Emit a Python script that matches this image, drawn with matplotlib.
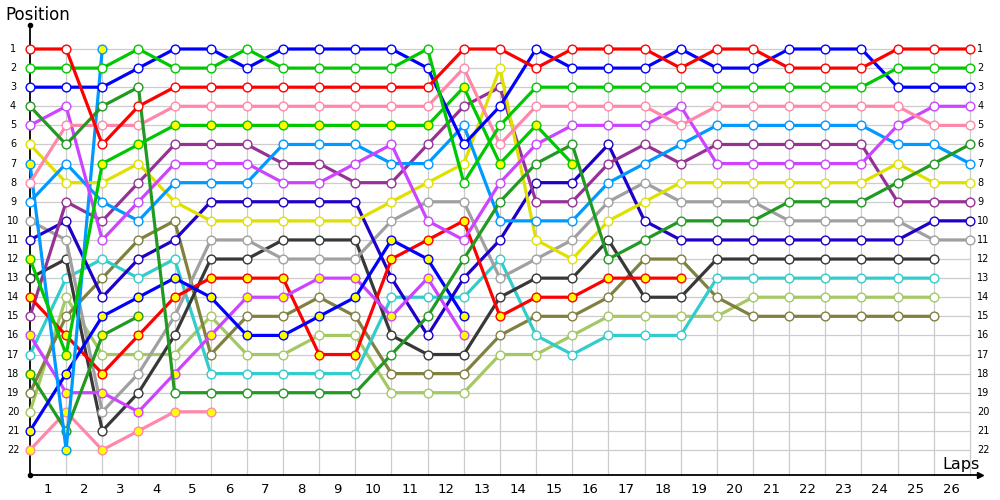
import matplotlib
matplotlib.use("Agg")
import matplotlib.pyplot as plt

# ---- data: position per lap (index = lap, 0 = grid) ----
laps_total = 26
red_1 = [1, 1, 6, 4, 3, 3, 3, 3, 3, 3, 3, 3, 1, 1, 2, 1, 1, 1, 2, 1, 1, 2, 2, 2, 1, 1, 1]
green_1 = [2, 2, 2, 1, 2, 2, 1, 2, 2, 2, 2, 1, 8, 5, 3, 3, 3, 3, 3, 3, 3, 3, 3, 3, 2, 2, 2]
green_2 = [12, 17, 7, 6, 5, 5, 5, 5, 5, 5, 5, 5, 3, 7, 5, 7]
blue_1 = [3, 3, 3, 2, 1, 1, 2, 1, 1, 1, 1, 2, 6, 4, 1, 2, 2, 2, 1, 2, 2, 1, 1, 1, 3, 3, 3]
blue_2 = [21, 18, 15, 14, 13, 14, 16, 16, 15, 14, 11, 12, 15]
dkgreen_1 = [4, 6, 4, 3, 19, 19, 19, 19, 19, 19, 17, 15, 12, 9, 7, 6, 12, 11, 10, 10, 10, 9, 9, 9, 8, 7, 6]
dkgreen_2 = [18, 21, 16, 15]
violet_1 = [5, 4, 11, 9, 7, 7, 7, 8, 8, 7, 6, 10, 11, 8, 6, 5, 5, 5, 4, 7, 7, 7, 7, 7, 5, 4, 4]
violet_2 = [16, 19, 19, 20, 18, 16, 14, 14, 13, 13, 15, 13, 16]
yellow_1 = [6, 8, 8, 7, 9, 10, 10, 10, 10, 10, 9, 8, 7, 2, 11, 12, 10, 9, 8, 8, 8, 8, 8, 8, 7, 8, 8]
ltblue_1 = [9, 7, 9, 10, 8, 8, 8, 6, 6, 6, 7, 7, 5, 10, 10, 10, 8, 7, 6, 5, 5, 5, 5, 5, 6, 6, 7]
ltblue_2 = [7, 22, 1]
pink_1 = [8, 5, 5, 5, 4, 4, 4, 4, 4, 4, 4, 4, 2, 6, 4, 4, 4, 4, 5, 4, 4, 4, 4, 4, 4, 5, 5]
pink_2 = [22, 20, 22, 21, 20, 20]
red_2 = [14, 16, 18, 16, 14, 13, 13, 13, 17, 17, 12, 11, 10, 15, 14, 14, 13, 13, 13]
gray_1 = [10, 11, 20, 18, 15, 11, 11, 12, 12, 12, 10, 9, 9, 13, 12, 11, 9, 8, 9, 9, 9, 10, 10, 10, 10, 11, 11]
navy_1 = [11, 10, 14, 12, 11, 9, 9, 9, 9, 9, 13, 16, 13, 11, 8, 8, 6, 10, 11, 11, 11, 11, 11, 11, 11, 10, 10]
black_1 = [13, 12, 21, 19, 16, 12, 12, 11, 11, 11, 16, 17, 17, 14, 13, 13, 11, 14, 14, 12, 12, 12, 12, 12, 12, 12]
purple_1 = [15, 9, 10, 8, 6, 6, 6, 7, 7, 8, 8, 6, 4, 3, 9, 9, 7, 6, 7, 6, 6, 6, 6, 6, 9, 9, 9]
cyan_1 = [17, 13, 12, 13, 12, 18, 18, 18, 18, 18, 14, 14, 14, 12, 16, 17, 16, 16, 16, 13, 13, 13, 13, 13, 13, 13]
olive_1 = [19, 15, 13, 11, 10, 17, 15, 15, 14, 15, 18, 18, 18, 16, 15, 15, 14, 12, 12, 14, 15, 15, 15, 15, 15, 15]
ltgreen_1 = [20, 14, 17, 17, 17, 15, 17, 17, 16, 16, 19, 19, 19, 17, 17, 16, 15, 15, 15, 15, 14, 14, 14, 14, 14, 14]

lap_labels = [str(i) for i in range(1, laps_total + 1)]
pos_labels = [str(i) for i in range(1, 23)]

# (series, line colour, marker face)
series = [
    (ltgreen_1, "#a4c864", "white"),
    (olive_1, "#808040", "white"),
    (cyan_1, "#33cccc", "white"),
    (black_1, "#383838", "white"),
    (gray_1, "#a0a0a0", "white"),
    (navy_1, "#1e00c8", "white"),
    (purple_1, "#963296", "white"),
    (pink_2, "#ff88aa", "#ffff00"),
    (red_2, "#ff0000", "#ffff00"),
    (violet_2, "#cc44ff", "#ffff00"),
    (dkgreen_2, "#229922", "#ffff00"),
    (blue_2, "#0000ff", "#ffff00"),
    (ltblue_2, "#0099ff", "#ffff00"),
    (yellow_1, "#e0e000", "white"),
    (ltblue_1, "#0099ff", "white"),
    (violet_1, "#cc44ff", "white"),
    (pink_1, "#ff88aa", "white"),
    (dkgreen_1, "#229922", "white"),
    (green_2, "#00c800", "#ffff00"),
    (blue_1, "#0000ff", "white"),
    (green_1, "#00c800", "white"),
    (red_1, "#ff0000", "white"),
]

fig = plt.figure(figsize=(10, 5), dpi=100)
ax = fig.add_axes([0.03, 0.05, 0.95, 0.90])
x_max = 26.28
y_bottom = 23.31
y_top = -0.257
ax.set_xlim(0, x_max)
ax.set_ylim(y_bottom, y_top)
ax.axis("off")

grid_c = "#cccccc"
# grid
for p in range(1, 23):
    ax.plot([0, laps_total], [p, p], color=grid_c, lw=0.9, zorder=1, clip_on=False)
for L in range(1, laps_total + 1):
    ax.plot([L, L], [0.82, y_bottom], color=grid_c, lw=0.9, zorder=1, clip_on=False)

# axes lines
ax.plot([0, 0], [y_bottom, y_top], color="black", lw=1.3, zorder=2, clip_on=False)
ax.plot([0, x_max], [y_bottom, y_bottom], color="black", lw=1.3, zorder=2, clip_on=False)
ax.plot([0], [y_top], marker="o", ms=3, color="black", clip_on=False, zorder=2)
ax.plot([0], [y_bottom], marker="o", ms=3, color="black", clip_on=False, zorder=2)
ax.plot([x_max], [y_bottom], marker=">", ms=5, color="black", clip_on=False, zorder=2)

# series
for vals, col, face in series:
    xs = list(range(len(vals)))
    ax.plot(xs, vals, color=col, lw=2.3, solid_joinstyle="miter",
            solid_capstyle="butt", marker="o", ms=6.3, mfc=face, mec=col,
            mew=1.0, zorder=3, clip_on=False)

# labels
for i, t in enumerate(pos_labels):
    p = i + 1
    ax.text(-0.47, p, t, ha="center", va="center", fontsize=7, family="DejaVu Sans")
    ax.text(laps_total + 0.2, p, t, ha="left", va="center", fontsize=7, family="DejaVu Sans")
for i, t in enumerate(lap_labels):
    ax.text(i + 0.5, 24.05, t, ha="center", va="center", fontsize=9.5,
            family="DejaVu Sans", clip_on=False)

fig.text(0.005, 0.97, "Position", ha="left", va="center", fontsize=12, family="DejaVu Sans")
fig.text(0.942, 0.072, "Laps", ha="left", va="center", fontsize=11.5, family="DejaVu Sans")

fig.savefig("out.png", dpi=100)
